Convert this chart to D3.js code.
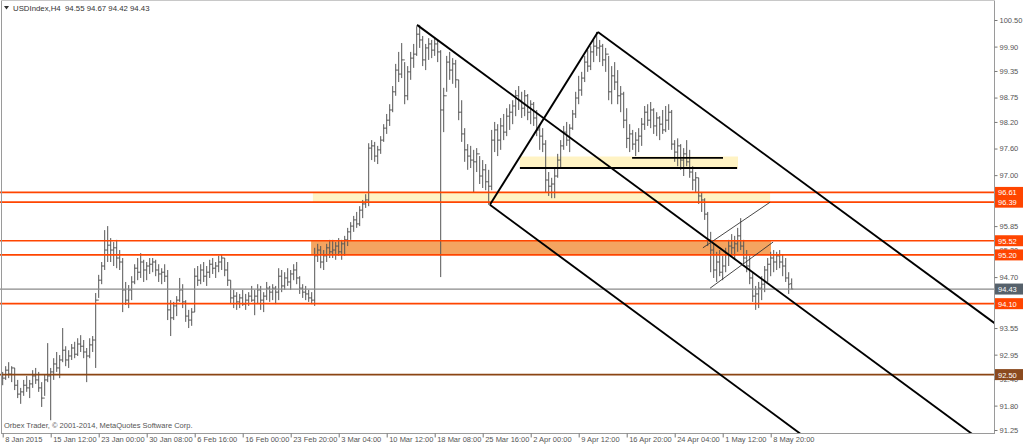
<!DOCTYPE html>
<html><head><meta charset="utf-8">
<script src="https://cdn.jsdelivr.net/npm/d3@7"></script>
<style>
html,body{margin:0;padding:0;background:#fff;}
svg{display:block;font-family:"Liberation Sans",Arial,sans-serif;}
</style></head>
<body><svg id="c" width="1024" height="447"></svg>
<script>
// ---------- data ----------
const symbolTitle = "USDIndex,H4  94.55 94.67 94.42 94.43";
const footerText = "Orbex Trader, \u00A9 2001-2014, MetaQuotes Software Corp.";
const timeLabels = ["8 Jan 2015","15 Jan 12:00","23 Jan 00:00","30 Jan 08:00","6 Feb 16:00","16 Feb 00:00","23 Feb 20:00","3 Mar 04:00","10 Mar 12:00","18 Mar 08:00","25 Mar 16:00","2 Apr 00:00","9 Apr 12:00","16 Apr 20:00","24 Apr 04:00","1 May 12:00","8 May 20:00"];
const timeLabelBars = [0,16,32,48,64,80,96,112,128,144,160,176,192,208,224,240,256];
const priceTicks = [100.50,99.90,99.35,98.75,98.20,97.60,97.00,95.85,95.30,94.70,93.55,92.95,92.40,91.80,91.25];

const barHigh = [92.56,92.69,92.78,92.69,92.65,92.38,92.20,92.38,92.47,92.38,92.60,92.65,92.56,92.33,92.51,93.21,92.65,92.87,93.01,92.94,93.55,93.14,93.05,93.19,93.24,93.32,93.39,93.28,93.10,93.32,93.37,94.34,94.75,95.04,95.76,95.85,95.58,95.49,95.54,95.31,95.13,94.59,94.52,94.72,94.99,95.13,95.24,95.09,95.04,95.13,95.13,95.09,94.99,94.90,94.99,94.86,94.18,94.14,94.27,94.68,94.54,94.18,93.96,94.00,94.90,94.95,94.99,95.04,94.95,95.09,95.13,95.04,95.18,95.22,95.13,95.04,94.63,94.41,94.36,94.32,94.41,94.32,94.36,94.50,94.41,94.54,94.50,94.36,94.59,94.50,94.54,94.50,94.90,94.86,94.81,94.90,94.86,94.99,95.04,94.72,94.54,94.50,94.41,94.36,95.36,95.45,95.40,95.31,95.45,95.54,95.54,95.49,95.58,95.54,95.63,95.81,95.94,96.08,96.17,96.30,96.44,96.57,97.72,97.79,97.75,97.66,97.88,98.15,98.38,98.60,99.01,99.51,99.78,99.98,99.55,99.46,99.78,99.96,100.36,100.39,100.14,99.96,100.09,100.05,100.09,100.05,99.82,98.97,99.69,99.78,99.64,99.60,99.15,98.69,98.06,97.70,97.66,97.57,97.61,97.43,97.34,97.25,97.12,98.02,98.20,98.15,98.29,98.38,98.51,98.60,98.69,98.92,99.01,98.88,98.92,98.83,98.69,98.65,98.47,98.15,98.06,97.79,97.07,96.94,97.16,97.48,97.79,98.11,98.20,98.15,98.47,98.88,99.24,99.33,99.69,99.82,99.91,100.05,100.23,100.05,99.96,99.87,99.69,99.46,99.55,99.37,99.01,98.88,98.51,98.15,98.02,97.97,98.06,98.29,98.56,98.60,98.65,98.51,98.42,98.33,98.47,98.56,98.60,98.47,97.79,97.83,97.70,97.61,97.79,97.57,97.20,97.07,96.94,96.62,96.48,96.17,95.72,95.45,95.27,95.31,95.18,95.36,95.54,95.67,95.63,95.81,96.03,95.54,95.31,95.18,94.81,94.50,94.59,94.72,94.95,95.13,95.27,95.31,95.27,95.31,95.22,95.13,94.81,94.67];
const barLow = [92.26,92.38,92.42,92.33,92.15,91.97,91.84,92.02,92.11,91.97,92.20,92.29,92.11,91.77,92.02,92.33,91.47,92.38,92.56,92.42,92.78,92.69,92.65,92.83,92.87,92.92,93.01,92.87,92.33,92.87,93.01,92.65,94.23,94.54,94.86,95.04,95.04,94.95,94.90,94.86,93.91,94.07,94.00,94.18,94.54,94.63,94.68,94.59,94.63,94.77,94.81,94.72,94.59,94.54,94.59,93.73,93.37,93.73,93.82,94.14,94.00,93.69,93.55,93.60,93.91,94.50,94.54,94.59,94.50,94.68,94.77,94.68,94.81,94.86,94.72,94.50,94.09,94.00,93.96,94.00,94.05,93.96,94.05,94.14,93.84,94.09,93.96,93.91,94.18,94.14,94.18,94.09,94.18,94.36,94.41,94.50,94.41,94.63,94.54,94.32,94.23,94.18,94.14,94.09,94.05,95.04,94.90,94.86,95.04,95.13,95.13,95.09,95.18,95.09,95.18,95.40,95.54,95.72,95.81,95.85,96.03,96.26,96.30,97.34,97.30,97.25,97.48,97.75,97.93,98.11,98.42,98.79,99.10,99.19,98.60,98.69,99.15,99.42,99.69,99.87,99.46,99.37,99.60,99.64,99.69,99.55,94.70,97.97,98.88,99.15,99.06,98.97,98.24,97.75,97.30,97.12,97.16,96.60,97.07,96.80,96.71,96.66,96.33,96.66,97.52,97.43,97.57,97.79,97.88,98.02,98.15,98.33,98.47,98.29,98.33,98.24,98.15,98.11,97.88,97.57,97.52,96.62,96.53,96.48,96.48,96.94,97.16,97.57,97.66,97.52,98.02,98.29,98.60,98.79,99.10,99.33,99.37,99.55,99.69,99.55,99.46,99.33,98.69,98.60,98.92,98.60,98.42,98.06,97.61,97.52,97.57,97.43,97.52,97.66,98.02,98.11,98.06,97.93,97.88,97.79,97.93,97.97,98.02,97.57,97.30,97.20,97.12,96.98,97.20,96.94,96.66,96.62,96.35,96.17,95.99,95.40,94.81,94.68,94.59,94.72,94.63,94.81,94.95,95.18,95.09,95.27,95.31,94.99,94.81,94.54,94.14,93.96,94.00,94.18,94.36,94.59,94.72,94.81,94.86,94.90,94.72,94.59,94.32,94.42];
const barOpen = [92.45,92.42,92.60,92.51,92.65,92.26,92.06,92.11,92.26,92.20,92.29,92.47,92.38,92.20,91.97,92.38,92.47,92.56,92.74,92.65,92.83,93.05,92.83,92.92,93.10,92.96,93.19,93.14,93.01,92.92,93.17,93.28,94.18,94.63,94.95,95.31,95.42,95.31,95.36,95.13,95.04,94.41,94.18,94.41,94.59,94.90,94.81,95.04,94.86,94.95,94.99,95.04,94.86,94.77,94.81,94.72,93.96,93.78,94.05,94.18,94.41,94.14,93.82,93.73,93.91,94.72,94.63,94.86,94.72,94.81,94.99,94.90,94.95,95.04,95.13,94.86,94.63,94.23,94.27,94.14,94.23,94.09,94.18,94.27,94.18,94.27,94.41,94.18,94.27,94.45,94.36,94.45,94.36,94.72,94.50,94.68,94.59,94.77,94.86,94.68,94.45,94.36,94.32,94.23,94.18,95.18,95.31,95.04,95.18,95.36,95.27,95.31,95.40,95.27,95.45,95.54,95.72,95.85,95.99,95.90,96.21,96.35,96.44,97.61,97.66,97.43,97.57,97.79,98.06,98.24,98.47,98.88,99.37,99.28,99.60,98.79,99.33,99.64,99.73,100.18,100.05,99.60,99.87,99.96,99.82,99.96,99.78,98.47,98.79,99.55,99.37,99.51,99.15,98.42,97.93,97.57,97.43,97.34,97.30,97.48,96.98,97.12,96.85,96.75,97.79,98.02,97.79,98.11,97.97,98.33,98.42,98.56,98.79,98.69,98.51,98.79,98.42,98.60,98.29,98.02,97.88,97.70,96.89,96.75,96.80,96.98,97.34,97.66,97.97,97.79,98.06,98.38,98.74,98.92,99.19,99.55,99.46,99.78,99.91,99.87,99.91,99.60,99.73,98.88,99.24,99.10,98.79,98.83,98.24,97.83,97.93,97.70,97.79,97.88,98.15,98.42,98.24,98.47,98.11,98.29,98.15,98.02,98.24,98.42,97.70,97.52,97.66,97.34,97.48,97.30,97.07,96.89,96.94,96.53,96.44,96.12,95.54,95.31,94.86,95.04,94.81,94.95,95.22,95.40,95.36,95.45,95.63,95.40,95.13,94.95,94.68,94.27,94.32,94.45,94.54,94.86,94.99,95.13,95.04,95.18,95.04,94.95,94.68,94.55];
const barClose = [92.42,92.60,92.51,92.65,92.26,92.06,92.11,92.26,92.20,92.29,92.47,92.38,92.20,91.97,92.38,92.47,92.56,92.74,92.65,92.83,93.05,92.83,92.92,93.10,92.96,93.19,93.14,93.01,92.92,93.17,93.28,94.18,94.63,94.95,95.31,95.42,95.31,95.36,95.13,95.04,94.41,94.18,94.41,94.59,94.90,94.81,95.04,94.86,94.95,94.99,95.04,94.86,94.77,94.81,94.72,93.96,93.78,94.05,94.18,94.41,94.14,93.82,93.73,93.91,94.72,94.63,94.86,94.72,94.81,94.99,94.90,94.95,95.04,95.13,94.86,94.63,94.23,94.27,94.14,94.23,94.09,94.18,94.27,94.18,94.27,94.41,94.18,94.27,94.45,94.36,94.45,94.36,94.72,94.50,94.68,94.59,94.77,94.86,94.68,94.45,94.36,94.32,94.23,94.18,95.18,95.31,95.04,95.18,95.36,95.27,95.31,95.40,95.27,95.45,95.54,95.72,95.85,95.99,95.90,96.21,96.35,96.44,97.61,97.66,97.43,97.57,97.79,98.06,98.24,98.47,98.88,99.37,99.28,99.60,98.79,99.33,99.64,99.73,100.18,100.05,99.60,99.87,99.96,99.82,99.96,99.78,98.47,98.79,99.55,99.37,99.51,99.15,98.42,97.93,97.57,97.43,97.34,97.30,97.48,96.98,97.12,96.85,96.75,97.79,98.02,97.79,98.11,97.97,98.33,98.42,98.56,98.79,98.69,98.51,98.79,98.42,98.60,98.29,98.02,97.88,97.70,96.89,96.75,96.80,96.98,97.34,97.66,97.97,97.79,98.06,98.38,98.74,98.92,99.19,99.55,99.46,99.78,99.91,99.87,99.91,99.60,99.73,98.88,99.24,99.10,98.79,98.83,98.24,97.83,97.93,97.70,97.79,97.88,98.15,98.42,98.24,98.47,98.11,98.29,98.15,98.02,98.24,98.42,97.70,97.52,97.66,97.34,97.48,97.30,97.07,96.89,96.94,96.53,96.44,96.12,95.54,95.31,94.86,95.04,94.81,94.95,95.22,95.40,95.36,95.45,95.63,95.40,95.13,94.95,94.68,94.27,94.32,94.45,94.54,94.86,94.99,95.13,95.04,95.18,95.04,94.95,94.68,94.54,94.43];

// horizontal levels (price) and their kinds
const levelPrices = [96.61, 96.39, 95.52, 95.20, 94.10, 92.50, 94.43];
const levelKinds  = ["sr","sr","sr","sr","sr","major","bid"];
// zones: [startBar, endBar, upperPrice, lowerPrice, kind]
const zoneStart = [103.4, 102.8, 172.4];
const zoneEnd   = [255.8, 256.1, 245.1];
const zoneTop   = [96.61, 95.52, 97.42];
const zoneBot   = [96.39, 95.20, 97.15];
const zoneKind  = ["light","dark","light"];
// trend lines: bar index / price anchors
const tlBar1  = [138.1, 198.4, 162.4, 162.4, 172.4, 209.8, 233.4, 235.8];
const tlP1    = [100.39, 100.23, 96.33, 96.33, 97.16, 97.39, 95.36, 94.45];
const tlBar2  = [263, 263, 263, 198.4, 244.8, 240.1, 255.8, 256.8];
const tlP2    = [94.16, 97.02, 91.31, 100.23, 97.16, 97.39, 96.39, 95.49];
const tlRay   = [true, true, true, false, false, false, false, false];
const tlThin  = [false, false, false, false, false, false, true, true];

// ---------- layout ----------
const W = 1024, H = 447;
const plotRight = 994, plotBottom = 433;
const svg = d3.select("#c");
const x = d3.scaleLinear().domain([0, barHigh.length - 1]).range([2.7, 791.7]);
const y = d3.scaleLinear().domain([91.25, 100.50]).range([430, 20]);
const FONT = 7.5;

svg.append("defs").append("clipPath").attr("id","plot")
  .append("rect").attr("x",0).attr("y",0).attr("width",plotRight).attr("height",plotBottom);

svg.append("rect").attr("width",W).attr("height",H).attr("fill","#fff");

const plot = svg.append("g").attr("clip-path","url(#plot)");

// zones
plot.selectAll("rect.zone").data(zoneStart).join("rect")
  .attr("class","zone")
  .attr("x",(d,i)=>x(d))
  .attr("width",(d,i)=>x(zoneEnd[i]) - x(d))
  .attr("y",(d,i)=>y(zoneTop[i]))
  .attr("height",(d,i)=>y(zoneBot[i]) - y(zoneTop[i]))
  .attr("fill",(d,i)=>zoneKind[i]==="dark" ? "#f4a460" : "#fff3c4");

// bars
const bars = plot.append("g").attr("stroke","#555").attr("stroke-width",1);
barHigh.forEach((h,i)=>{
  const xi = x(i);
  bars.append("line").attr("x1",xi).attr("x2",xi).attr("y1",y(h)).attr("y2",y(barLow[i]));
  bars.append("line").attr("x1",xi-1.5).attr("x2",xi).attr("y1",y(barOpen[i])).attr("y2",y(barOpen[i]));
  bars.append("line").attr("x1",xi).attr("x2",xi+1.5).attr("y1",y(barClose[i])).attr("y2",y(barClose[i]));
});

// horizontal levels
const levelColor = k => k==="sr" ? "#ff4500" : (k==="major" ? "#8b4513" : "#8a8a8a");
plot.selectAll("line.level").data(levelPrices).join("line")
  .attr("class","level")
  .attr("x1",0).attr("x2",plotRight)
  .attr("y1",d=>y(d)).attr("y2",d=>y(d))
  .attr("stroke",(d,i)=>levelColor(levelKinds[i]))
  .attr("stroke-width",(d,i)=>levelKinds[i]==="bid" ? 1.3 : 1.7);

// trend lines
plot.selectAll("line.tl").data(tlBar1).join("line")
  .attr("class","tl")
  .attr("x1",d=>x(d))
  .attr("y1",(d,i)=>y(tlP1[i]))
  .attr("x2",(d,i)=>{
     if(!tlRay[i]) return x(tlBar2[i]);
     return x(tlBar2[i]) + (x(tlBar2[i]) - x(d)) * 3;
  })
  .attr("y2",(d,i)=>{
     if(!tlRay[i]) return y(tlP2[i]);
     return y(tlP2[i]) + (y(tlP2[i]) - y(tlP1[i])) * 3;
  })
  .attr("stroke",(d,i)=>tlThin[i] ? "#333" : "#000")
  .attr("stroke-width",(d,i)=>tlThin[i] ? 0.9 : 1.9);

// frame
svg.append("line").attr("x1",1.5).attr("x2",1.5).attr("y1",0).attr("y2",plotBottom).attr("stroke","#9a9a9a");
svg.append("line").attr("x1",plotRight+0.5).attr("x2",plotRight+0.5).attr("y1",0).attr("y2",plotBottom+0.5).attr("stroke","#9a9a9a");
svg.append("line").attr("x1",1).attr("x2",plotRight+1).attr("y1",plotBottom+0.5).attr("y2",plotBottom+0.5).attr("stroke","#9a9a9a");
svg.append("line").attr("x1",1).attr("x2",plotRight+1).attr("y1",0.5).attr("y2",0.5).attr("stroke","#c8c8c8");

// y axis
const yAxis = d3.axisRight(y).tickValues(priceTicks).tickSize(3).tickPadding(2)
  .tickFormat(d=>d.toFixed(2));
const gy = svg.append("g").attr("transform",`translate(${plotRight+0.5},0)`).call(yAxis);
gy.select(".domain").remove();
gy.selectAll("line").attr("stroke","#777");
gy.selectAll("text").attr("font-size",FONT).attr("fill","#555").attr("font-family","Liberation Sans, Arial, sans-serif");

// x axis
const xAxis = d3.axisBottom(x).tickValues(timeLabelBars).tickSize(4)
  .tickFormat((d,i)=>timeLabels[i]);
const gx = svg.append("g").attr("transform",`translate(0,${plotBottom+0.5})`).call(xAxis);
gx.select(".domain").remove();
gx.selectAll("line").attr("stroke","#777");
gx.selectAll("text").attr("font-size",FONT).attr("fill","#555")
  .attr("text-anchor","start").attr("x",2).attr("dy","0.6em").attr("y",3.5)
  .attr("font-family","Liberation Sans, Arial, sans-serif");

// price label boxes on the right
const boxColor = k => k==="sr" ? "#ff4500" : (k==="major" ? "#8b4a1f" : "#56616b");
const boxes = svg.append("g");
levelPrices.forEach((p,i)=>{
  const yy = y(p);
  boxes.append("rect").attr("x",plotRight+1).attr("y",yy-5.5).attr("width",W-plotRight-2).attr("height",11)
    .attr("fill",boxColor(levelKinds[i]));
  boxes.append("text").attr("x",plotRight+4).attr("y",yy+3).attr("font-size",FONT).attr("fill","#fff")
    .text(p.toFixed(2));
});

// title
svg.append("path").attr("d","M4,6 L9,6 L6.5,9.5 Z").attr("fill","#333");
svg.append("text").attr("x",13).attr("y",11).attr("font-size",FONT+0.3).attr("fill","#333")
  .attr("xml:space","preserve").style("white-space","pre").text(symbolTitle);

// footer
svg.append("text").attr("x",4).attr("y",428).attr("font-size",FONT).attr("fill","#555").text(footerText);
</script>
</body></html>
